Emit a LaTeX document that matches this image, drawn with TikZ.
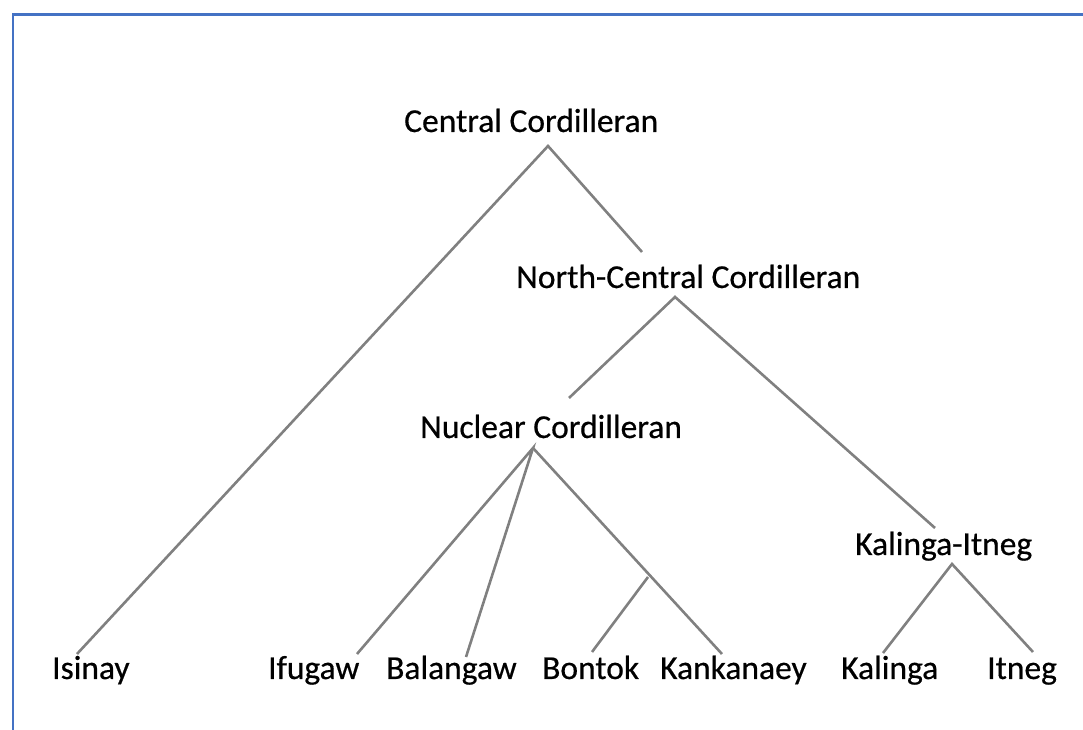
\documentclass[tikz,border=0pt]{standalone}
\usepackage{fontspec}
\setmainfont{Carlito}
\newfontfamily\lblfont[FakeBold=0.5]{Carlito}
\begin{document}
\begin{tikzpicture}[x=1pt,y=1pt,
  lbl/.style={anchor=base west,inner sep=0pt,font=\lblfont\fontsize{33.5}{40}\selectfont},
  edge/.style={draw={rgb,255:red,128;green,128;blue,128},line width=2.6pt},
  frame/.style={draw={rgb,255:red,68;green,114;blue,196},line width=2.6pt}]
\useasboundingbox (0,0) rectangle (1083,730);
% frame
\coordinate (fr) at (1083,715.5);
\coordinate (fc) at (13,715.5);
\coordinate (fb) at (13,0);
\draw[frame] (fr) -- (fc) -- (fb);
% labels
\node[lbl] (cc) at (404,598) {Central Cordilleran};
\node[lbl] (ncc) at (516,442) {North-Central Cordilleran};
\node[lbl] (nuc) at (420,292) {Nuclear Cordilleran};
\node[lbl] (ki) at (855,175) {Kalinga-Itneg};
\node[lbl] (isinay) at (52,51) {Isinay};
\node[lbl] (ifugaw) at (268,51) {Ifugaw};
\node[lbl] (balangaw) at (386,51) {Balangaw};
\node[lbl] (bontok) at (542,51) {Bontok};
\node[lbl] (kankanaey) at (660,51) {Kankanaey};
\node[lbl] (kalinga) at (841,51) {Kalinga};
\node[lbl] (itneg) at (987,51) {Itneg};
% endpoints
\coordinate (ccA) at (548,584);
\coordinate (isT) at (77,76);
\coordinate (nccT) at (642,478);
\coordinate (nccA) at (675,433);
\coordinate (nucT) at (569,332);
\coordinate (kiT) at (935,202);
\coordinate (nucA) at (533,282);
\coordinate (ifT) at (357,76);
\coordinate (baT) at (466,73);
\coordinate (kaT) at (722,76);
\coordinate (bk) at (648,153);
\coordinate (boT) at (592,78);
\coordinate (kiA) at (952,166);
\coordinate (klT) at (883,77);
\coordinate (itT) at (1033,78);
% connectors
\draw[edge] (isT) -- (ccA) -- (nccT);
\draw[edge] (nucT) -- (nccA) -- (kiT);
\draw[edge] (ifT) -- (nucA) -- (baT);
\draw[edge] (nucA) -- (kaT);
\draw[edge] (bk) -- (boT);
\draw[edge] (klT) -- (kiA) -- (itT);
\end{tikzpicture}
\end{document}
